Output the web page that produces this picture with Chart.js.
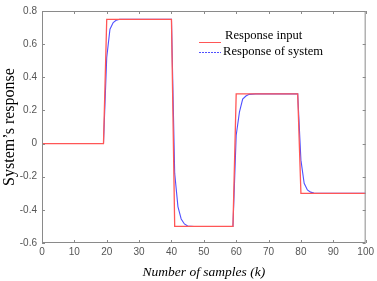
<!DOCTYPE html>
<html lang="en">
<head>
    <meta charset="UTF-8">
    <title>System's response</title>
    <style>
        body {
            margin: 0;
            padding: 0;
            background-color: #fff;
        }
        #chartBox {
            width: 377px;
            height: 281px;
        }
    </style>
    <script src="https://cdn.jsdelivr.net/npm/chart.js"></script>
</head>
<body>
    <div id="chartBox"><canvas id="responseChart"></canvas></div>

    <script>
        // step input (sample index / value at each corner)
        const inputK = [0, 19, 20, 40, 41, 59, 60, 79, 80, 100];
        const inputValues = [0, 0, 0.75, 0.75, -0.5, -0.5, 0.3, 0.3, -0.3, -0.3];

        // system response
        const responseK = [0, 19, 20, 21, 22, 23, 24, 26, 40, 41, 42, 43, 44, 45, 47,
            59, 60, 61, 62, 63, 64, 66, 79, 80, 81, 82, 83, 84, 86, 100];
        const responseValues = [0, 0, 0.52, 0.69, 0.73, 0.745, 0.75, 0.75, 0.75, -0.18, -0.38, -0.455, -0.485, -0.497, -0.5,
            -0.5, 0.05, 0.19, 0.268, 0.287, 0.297, 0.3, 0.3, -0.1, -0.24, -0.28, -0.293, -0.298, -0.3, -0.3];

        const xTicks = [0, 10, 20, 30, 40, 50, 60, 70, 80, 90, 100];
        const yTicks = [-0.6, -0.4, -0.2, 0, 0.2, 0.4, 0.6, 0.8];

        const redColor = '#ff5656';
        const blueColor = '#5050ff';
        const axisColor = '#8a8a8a';

        // MATLAB style box with inward ticks + legend inside the plot
        const framePlugin = {
            id: 'frame',
            afterDraw(chart) {
                const c = chart.ctx;
                const area = chart.chartArea;
                const xs = chart.scales.x;
                const ys = chart.scales.y;
                c.save();
                c.strokeStyle = axisColor;
                c.lineWidth = 1;
                c.strokeRect(area.left + 0.5, area.top + 0.5, area.right - area.left - 1, area.bottom - area.top - 1);
                c.beginPath();
                xTicks.forEach(v => {
                    const px = Math.round(xs.getPixelForValue(v)) + 0.5;
                    c.moveTo(px, area.bottom);
                    c.lineTo(px, area.bottom - 3);
                    c.moveTo(px, area.top);
                    c.lineTo(px, area.top + 3);
                });
                yTicks.forEach(v => {
                    const py = Math.round(ys.getPixelForValue(v)) + 0.5;
                    c.moveTo(area.left, py);
                    c.lineTo(area.left + 3, py);
                    c.moveTo(area.right, py);
                    c.lineTo(area.right - 3, py);
                });
                c.stroke();

                // legend
                const sets = chart.data.datasets;
                c.font = '12.6px "Liberation Serif"';
                c.fillStyle = '#000';
                c.textBaseline = 'middle';
                c.lineWidth = 1;

                c.strokeStyle = sets[0].borderColor;
                c.beginPath();
                c.moveTo(199, 42.5);
                c.lineTo(221, 42.5);
                c.stroke();
                c.fillText(sets[0].label, 225, 36);

                c.strokeStyle = sets[1].borderColor;
                c.setLineDash([2, 1]);
                c.beginPath();
                c.moveTo(199, 52.5);
                c.lineTo(221, 52.5);
                c.stroke();
                c.setLineDash([]);
                c.fillText(sets[1].label, 223, 52);
                c.restore();
            }
        };

        const ctx = document.getElementById('responseChart').getContext('2d');
        const responseChart = new Chart(ctx, {
            type: 'line',
            data: {
                datasets: [{
                    label: 'Response input',
                    data: inputK.map((k, i) => ({ x: k, y: inputValues[i] })),
                    borderColor: redColor,
                    borderWidth: 1.3,
                    pointRadius: 0,
                    fill: false,
                    tension: 0
                }, {
                    label: 'Response of system',
                    data: responseK.map((k, i) => ({ x: k, y: responseValues[i] })),
                    borderColor: blueColor,
                    borderWidth: 1.1,
                    pointRadius: 0,
                    fill: false,
                    tension: 0
                }]
            },
            options: {
                responsive: true,
                maintainAspectRatio: false,
                animation: false,
                layout: {
                    padding: { top: 6, right: 10, left: 0, bottom: 0 }
                },
                plugins: {
                    legend: { display: false },
                    tooltip: { enabled: false }
                },
                scales: {
                    x: {
                        type: 'linear',
                        min: 0,
                        max: 100,
                        afterBuildTicks: s => { s.ticks = xTicks.map(v => ({ value: v })); },
                        afterFit: s => { s.height = 38; },
                        grid: { display: false, drawTicks: false },
                        border: { display: false },
                        ticks: {
                            padding: 3,
                            color: '#555',
                            font: { family: 'Liberation Sans', size: 10 },
                            maxRotation: 0
                        },
                        title: {
                            display: true,
                            text: 'Number of samples (k)',
                            color: '#000',
                            padding: { top: 0, bottom: 0 },
                            font: { family: 'Liberation Serif', size: 13.5, style: 'italic' }
                        }
                    },
                    y: {
                        min: -0.6,
                        max: 0.8,
                        afterBuildTicks: s => { s.ticks = yTicks.map(v => ({ value: v })); },
                        afterFit: s => { s.width = 42; },
                        grid: { display: false, drawTicks: false },
                        border: { display: false },
                        ticks: {
                            padding: 5,
                            color: '#555',
                            font: { family: 'Liberation Sans', size: 10 },
                            callback: v => (Math.abs(v) < 1e-9 ? '0' : String(Math.round(v * 10) / 10))
                        },
                        title: {
                            display: true,
                            text: 'System\u2019s response',
                            color: '#000',
                            padding: { top: 0, bottom: 0 },
                            font: { family: 'Liberation Serif', size: 16 }
                        }
                    }
                }
            },
            plugins: [framePlugin]
        });
    </script>
</body>
</html>
